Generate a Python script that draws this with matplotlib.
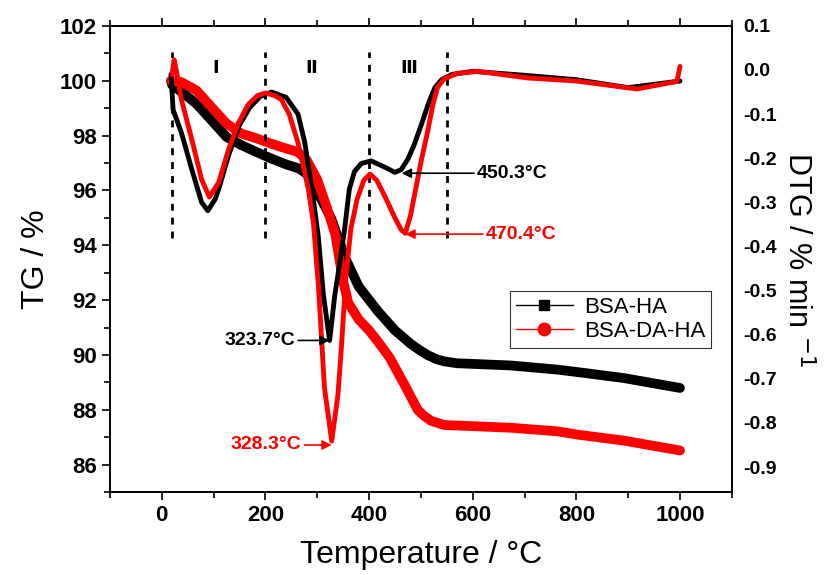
import matplotlib
matplotlib.use('Agg')
import matplotlib.pyplot as plt
from matplotlib.lines import Line2D
from matplotlib.ticker import MultipleLocator

plt.rcParams['font.family'] = ['Liberation Sans', 'DejaVu Sans']

# TG curves (left axis, %)
tg_ha_t = [18, 20, 38, 67, 96, 125, 154, 183, 212, 240, 265, 280, 295, 310, 327, 355, 380, 417, 450,
           481, 500, 513, 530, 545, 570, 610, 673, 763, 802, 892, 1000]
tg_ha = [100.0, 99.85, 99.6, 99.16, 98.56, 97.95, 97.65, 97.4, 97.16, 96.95, 96.8, 96.6, 96.1, 95.6,
         94.98, 93.5, 92.5, 91.6, 90.9, 90.4, 90.15, 90.0, 89.85, 89.77, 89.7, 89.67, 89.62, 89.47,
         89.38, 89.16, 88.8]

tg_daha_t = [18, 20, 38, 67, 96, 125, 154, 183, 212, 240, 263, 280, 300, 320, 335, 350, 360, 380, 400,
             417, 440, 469, 494, 505, 520, 545, 610, 673, 763, 802, 892, 1000]
tg_daha = [100.0, 100.0, 99.95, 99.65, 99.04, 98.44, 98.07, 97.9, 97.7, 97.53, 97.4, 97.1, 96.4, 95.3,
           94.4, 92.7, 91.9, 91.3, 90.9, 90.5, 89.9, 88.9, 88.0, 87.8, 87.6, 87.45, 87.4, 87.35, 87.22,
           87.1, 86.88, 86.52]

# DTG curves (right axis, % min-1)
dtg_ha_t = [18, 22, 38, 58, 77, 89, 103, 110, 130, 150, 170, 190, 212, 240, 263, 276, 289, 302, 312,
            324, 334, 344, 353, 362, 372, 385, 404, 430, 450, 462, 475, 487, 500, 515, 527, 540, 560,
            600, 700, 800, 900, 1000]
dtg_ha = [-0.01, -0.09, -0.142, -0.225, -0.30, -0.319, -0.293, -0.27, -0.19, -0.125, -0.085, -0.06,
          -0.05, -0.062, -0.1, -0.164, -0.263, -0.376, -0.51, -0.613, -0.51, -0.435, -0.36, -0.27,
          -0.23, -0.212, -0.206, -0.22, -0.232, -0.226, -0.202, -0.17, -0.127, -0.075, -0.04, -0.022,
          -0.01, -0.003, -0.012, -0.022, -0.04, -0.025]

dtg_daha_t = [20, 24, 28, 38, 58, 77, 92, 110, 129, 148, 167, 185, 200, 218, 231, 246, 263, 283, 293,
              303, 314, 328, 340, 347, 355, 365, 377, 390, 402, 415, 430, 450, 462, 470, 480, 490, 500,
              513, 523, 532, 545, 570, 610, 706, 800, 917, 994, 1000]
dtg_daha = [-0.01, 0.023, 0.0, -0.067, -0.157, -0.248, -0.288, -0.255, -0.18, -0.12, -0.078, -0.058,
            -0.052, -0.058, -0.067, -0.1, -0.165, -0.27, -0.35, -0.5, -0.72, -0.841, -0.737, -0.624,
            -0.473, -0.36, -0.293, -0.25, -0.236, -0.25, -0.285, -0.335, -0.362, -0.37, -0.33, -0.27,
            -0.21, -0.14, -0.08, -0.04, -0.02, -0.008, -0.003, -0.018, -0.025, -0.043, -0.026, 0.008]

stage_lines = [20, 200, 400, 550]
stage_names = ['I', 'Ⅱ', 'Ⅲ']
stage_pos = [105, 288, 477]

fig = plt.figure(figsize=(8.26, 5.75), dpi=100)
ax = fig.add_axes([0.133, 0.144, 0.753, 0.811])
ax2 = ax.twinx()

ax.plot(tg_ha_t, tg_ha, color='black', lw=7, solid_capstyle='round', solid_joinstyle='round', zorder=2)
ax2.plot(dtg_ha_t, dtg_ha, color='black', lw=3.5, solid_capstyle='round', solid_joinstyle='round', zorder=2)
ax.plot(tg_daha_t, tg_daha, color='red', lw=7, solid_capstyle='round', solid_joinstyle='round', zorder=3)
ax2.plot(dtg_daha_t, dtg_daha, color='red', lw=3.5, solid_capstyle='round', solid_joinstyle='round', zorder=3)

# stage separators and labels
for x in stage_lines:
    ax.plot([x, x], [94.25, 101.05], color='black', ls=(0, (2.5, 2.5)), lw=2, zorder=4)
for name, x in zip(stage_names, stage_pos):
    ax.text(x, 100.45, name, ha='center', va='center', fontsize=13, fontweight='bold',
            family=['DejaVu Sans'])

ax.set_xlim(-100, 1100)
ax.set_ylim(85.0, 102)
ax2.set_ylim(-0.957, 0.1)
ax.set_xticks([0, 200, 400, 600, 800, 1000])
ax.xaxis.set_minor_locator(MultipleLocator(100))
ax.set_yticks(range(86, 103, 2))
ax.yaxis.set_minor_locator(MultipleLocator(1))
ax2.set_yticks([0.1, 0.0, -0.1, -0.2, -0.3, -0.4, -0.5, -0.6, -0.7, -0.8, -0.9])
ax2.set_yticklabels(['0.1', '0.0', '-0.1', '-0.2', '-0.3', '-0.4', '-0.5', '-0.6', '-0.7', '-0.8', '-0.9'])

ax.tick_params(which='major', direction='out', length=6, width=1.2, top=True, labelsize=16)
ax.tick_params(which='minor', direction='out', length=4, width=1.2, top=True)
ax2.tick_params(which='both', length=0, pad=8, labelsize=14)
for lab in ax.get_xticklabels() + ax.get_yticklabels() + ax2.get_yticklabels():
    lab.set_fontweight('bold')
for a in (ax, ax2):
    for s in a.spines.values():
        s.set_linewidth(1.2)

ax.set_xlabel('Temperature / °C', fontsize=23, labelpad=10)
ax.set_ylabel('TG / %', fontsize=23, labelpad=6)
ax2.set_ylabel('DTG / % min $^{-1}$', fontsize=22, rotation=270, labelpad=26)

# peak annotations
ax2.annotate('450.3°C', xy=(463, -0.234), xytext=(608, -0.234), color='black', fontsize=14,
             fontweight='bold', va='center',
             arrowprops=dict(arrowstyle='-|>', color='black', lw=1.2, shrinkA=0, shrinkB=0))
ax2.annotate('470.4°C', xy=(470, -0.372), xytext=(625, -0.372), color='red', fontsize=14,
             fontweight='bold', va='center',
             arrowprops=dict(arrowstyle='-|>', color='red', lw=1.2, shrinkA=0, shrinkB=0))
ax2.annotate('323.7°C', xy=(324, -0.613), xytext=(258, -0.613), color='black', fontsize=14,
             fontweight='bold', va='center', ha='right',
             arrowprops=dict(arrowstyle='-|>', color='black', lw=1.2, shrinkA=0, shrinkB=0))
ax2.annotate('328.3°C', xy=(328, -0.85), xytext=(270, -0.85), color='red', fontsize=14,
             fontweight='bold', va='center', ha='right',
             arrowprops=dict(arrowstyle='-|>', color='red', lw=1.2, shrinkA=0, shrinkB=0))

handles = [Line2D([], [], color='black', lw=1, marker='s', markersize=7),
           Line2D([], [], color='red', lw=1, marker='o', markersize=9)]
leg = ax2.legend(handles, ['BSA-HA', 'BSA-DA-HA'], loc='upper right', bbox_to_anchor=(0.985, 0.455),
                 fontsize=16, frameon=True, fancybox=False, edgecolor='black', handlelength=2.6,
                 borderpad=0.25, labelspacing=0.15, handletextpad=0.5)
leg.get_frame().set_linewidth(0.8)

fig.savefig('out.png', dpi=100)
